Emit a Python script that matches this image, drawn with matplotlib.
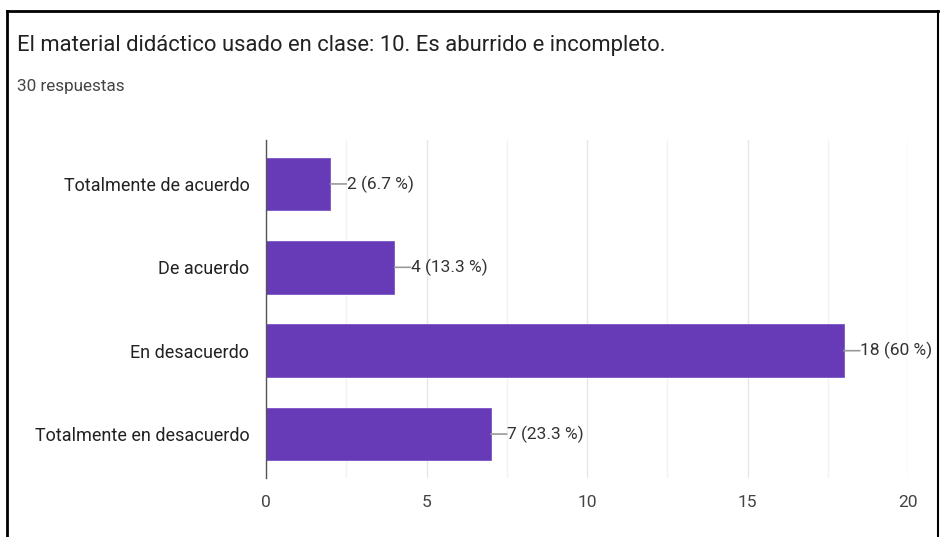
import matplotlib
matplotlib.use("Agg")
import matplotlib.pyplot as plt
from matplotlib.lines import Line2D
from matplotlib.ticker import MultipleLocator

categories = ["Totalmente de acuerdo", "De acuerdo", "En desacuerdo", "Totalmente en desacuerdo"]
counts = [2, 4, 18, 7]
percents = ["6.7", "13.3", "60", "23.3"]
xticks = [0, 5, 10, 15, 20]
title = "El material didáctico usado en clase: 10. Es aburrido e incompleto."
subtitle = "30 respuestas"

plt.rcParams['font.family'] = ['Roboto', 'DejaVu Sans']

W, H = 943, 537
fig = plt.figure(figsize=(W / 100, H / 100), dpi=100)
fig.patch.set_facecolor("white")

ax = fig.add_axes([266 / W, 1 - 478 / H, (908 - 266) / W, (478 - 140) / H])
ypos = list(range(len(categories)))
ax.barh(ypos, counts, height=0.63, color="#673ab7", edgecolor="#7b55c4", linewidth=0.6, zorder=3)
ax.set_ylim(len(categories) - 1 + 0.527, -0.527)
ax.set_xlim(0, 20)
ax.set_yticks(ypos)
ax.set_yticklabels(categories, fontsize=13.0, color="#222222")
ax.set_xticks(xticks)
ax.set_xticklabels([str(t) for t in xticks], fontsize=12.5, color="#444444")
ax.xaxis.set_minor_locator(MultipleLocator(2.5))
ax.tick_params(axis="both", which="both", length=0)
ax.tick_params(axis="y", pad=12)
ax.tick_params(axis="x", pad=12)
ax.xaxis.grid(True, which="major", color="#e6e6e6", linewidth=1.0, zorder=0)
ax.xaxis.grid(True, which="minor", color="#f2f2f2", linewidth=1.0, zorder=0)
ax.set_axisbelow(True)
for side in ["top", "right", "bottom"]:
    ax.spines[side].set_visible(False)
ax.spines["left"].set_color("#555555")
ax.spines["left"].set_linewidth(1.0)
ax.spines["left"].set_zorder(4)

for y, c, p in zip(ypos, counts, percents):
    ax.annotate("", xy=(c, y), xytext=(c + 0.5, y),
                arrowprops=dict(arrowstyle="-", color="#999999", lw=1.2, shrinkA=0, shrinkB=0))
    ax.text(c + 0.52, y, f"{c} ({p} %)", va="center", ha="left", fontsize=12.5, color="#333333")

fig.text(17 / W, 1 - 45 / H, title, fontsize=15.8, color="#222222", va="center", ha="left")
fig.text(17 / W, 1 - 87 / H, subtitle, fontsize=12.3, color="#444444", va="center", ha="left")

# frame lines of the screenshot
fig.add_artist(Line2D([7 / W, 938 / W], [1 - 11 / H, 1 - 11 / H], color="black", lw=2, transform=fig.transFigure))
fig.add_artist(Line2D([7 / W, 7 / W], [0, 1 - 11 / H], color="black", lw=2, transform=fig.transFigure))
fig.add_artist(Line2D([938 / W, 938 / W], [0, 1 - 11 / H], color="black", lw=1.5, transform=fig.transFigure))

fig.savefig("out.png", dpi=100, facecolor="white")
